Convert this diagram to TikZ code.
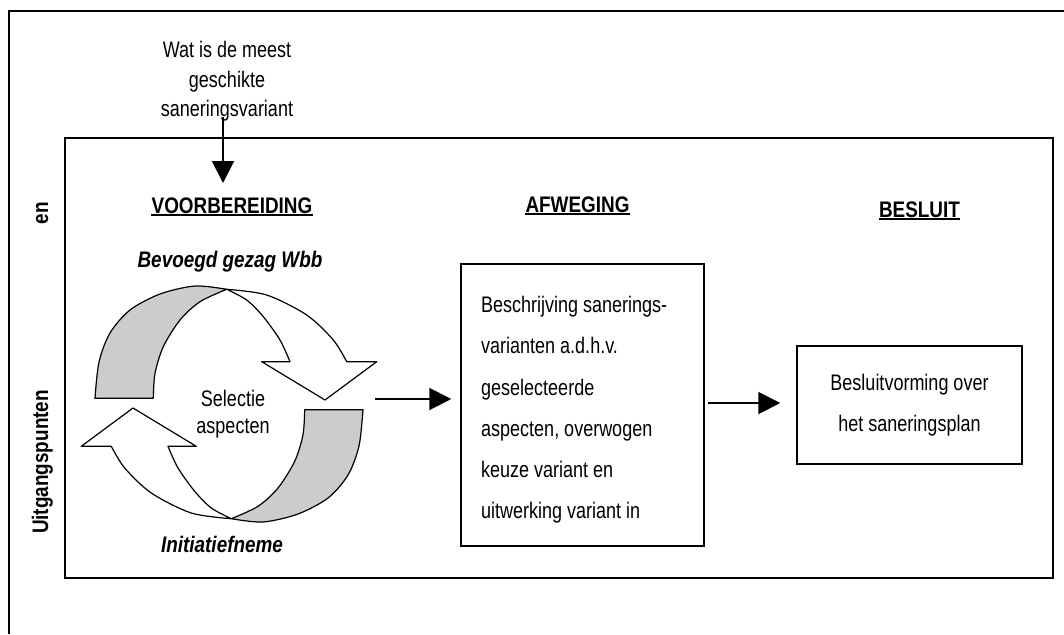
\documentclass[tikz,border=0pt]{standalone}
\usepackage{fontspec}
\setmainfont{Liberation Sans}[FakeStretch=0.80]
\newfontfamily\hb{Liberation Sans}[FakeStretch=0.84]
\usetikzlibrary{arrows.meta}
\definecolor{rgray}{RGB}{204,204,204}
\begin{document}
\begin{tikzpicture}[x=1pt,y=-1pt,
  txt/.style={font=\fontsize{22.5}{30}\selectfont, inner sep=0pt, anchor=base},
  head/.style={font=\hb\bfseries\fontsize{22.5}{26}\selectfont, inner sep=0pt, anchor=base},
  lab/.style={font=\hb\bfseries\itshape\fontsize{22.5}{26}\selectfont, inner sep=0pt, anchor=base},
  side/.style={font=\hb\bfseries\fontsize{22.5}{26}\selectfont, inner sep=0pt, anchor=base, rotate=90},
  box/.style={draw, line width=1.5pt, inner sep=0pt},
  arr/.style={line width=2pt, -{Triangle[length=22pt,width=22pt]}},
  ribbon/.style={draw, line width=1.2pt, line join=round}]
\useasboundingbox (0,0) rectangle (1064,634);
\fill[white] (0,0) rectangle (1064,634);
% outer frame (cropped)
\draw[line width=2pt] (9,634) -- (9,11) -- (1064,11);
% inner frame
\draw[line width=1.6pt] (65,138) rectangle (1053,578);
% side labels
\node[side] (en) at (48,213) {en};
\node[side] (uitg) at (48,462) {Uitgangspunten};
% question
\node[txt] (wat1) at (227,57.5) {Wat is de meest};
\node[txt] (wat2) at (227,87) {geschikte};
\node[txt] (wat3) at (227,116.7) {saneringsvariant};
\coordinate (dtip) at (223,183);
\draw[arr] (wat3.base -| dtip) -- (dtip);
% headings
\node[head] (h1) at (232,213) {VOORBEREIDING};
\node[head] (h2) at (577.5,212) {AFWEGING};
\node[head] (h3) at (919.5,217) {BESLUIT};
\foreach \h in {h1,h2,h3}
  \draw[line width=2.5pt] ([yshift=-2pt]\h.base west) -- ([yshift=-2pt]\h.base east);
% labels
\node[lab] (bg) at (230,267) {Bevoegd gezag Wbb};
\node[lab] (ini) at (222,552) {Initiatiefneme};
% circular arrows
\begin{scope}
  \draw[ribbon, fill=rgray] plot[smooth] coordinates {(95,398.3) (99,362) (110,333) (130,310) (160,294) (195,286) (226.7,289.3)}
     -- plot[smooth] coordinates {(226.7,289.3) (200,301.7) (180,320) (163.3,346.7) (155,373.3) (153.3,398.3)} -- cycle;
  \draw[ribbon, fill=white] plot[smooth] coordinates {(226.7,289.3) (266.7,295) (306.7,315) (333.3,340) (346.7,361.7)}
     -- (376.7,361.7) -- (325,400) -- (261.7,361.7) -- (290,361.7)
     -- plot[smooth] coordinates {(290,361.7) (280,340) (263.3,316.7) (246.7,300) (226.7,289.3)} -- cycle;
\end{scope}
\begin{scope}[rotate around={180:(229,404)}]
  \draw[ribbon, fill=rgray] plot[smooth] coordinates {(95,398.3) (99,362) (110,333) (130,310) (160,294) (195,286) (226.7,289.3)}
     -- plot[smooth] coordinates {(226.7,289.3) (200,301.7) (180,320) (163.3,346.7) (155,373.3) (153.3,398.3)} -- cycle;
  \draw[ribbon, fill=white] plot[smooth] coordinates {(226.7,289.3) (266.7,295) (306.7,315) (333.3,340) (346.7,361.7)}
     -- (376.7,361.7) -- (325,400) -- (261.7,361.7) -- (290,361.7)
     -- plot[smooth] coordinates {(290,361.7) (280,340) (263.3,316.7) (246.7,300) (226.7,289.3)} -- cycle;
\end{scope}
\node[txt] (sel1) at (233,406) {Selectie};
\node[txt] (sel2) at (233,433) {aspecten};
% boxes
\node[box, minimum width=243pt, minimum height=282pt] (afw) at (582.5,405) {};
\node[font=\fontsize{22.5}{41.3}\selectfont, inner sep=0pt, align=left, anchor=north west] (afwt) at (481,295.9)
  {Beschrijving sanerings-\\varianten a.d.h.v.\\geselecteerde\\aspecten, overwogen\\keuze variant en\\uitwerking variant in};
\node[box, minimum width=225pt, minimum height=118pt] (bes) at (909.5,405) {};
\node[txt] (bes1) at (909.5,390) {Besluitvorming over};
\node[txt] (bes2) at (909.5,431) {het saneringsplan};
% connectors
\coordinate (a1s) at (375,399);
\draw[arr, shorten >=9pt] (a1s) -- (afw.west |- a1s);
\draw[arr, shorten <=3pt, shorten >=16pt] (afw.east |- 0,403) -- (bes.west |- 0,403);
\end{tikzpicture}
\end{document}
